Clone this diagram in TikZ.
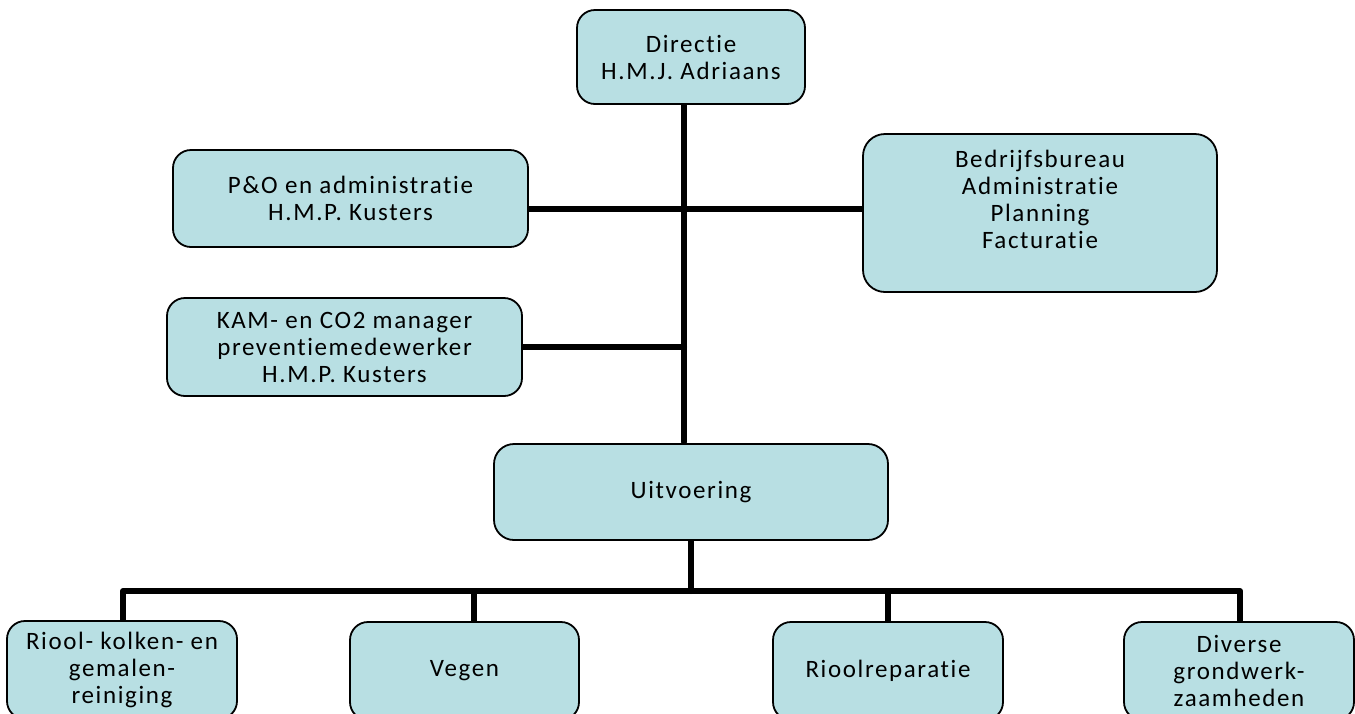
\documentclass[tikz,border=0pt]{standalone}
\usepackage{fontspec}
\setmainfont{Carlito}[Ligatures=NoCommon, LetterSpace=6.5]
\usetikzlibrary{backgrounds}
\definecolor{boxfill}{HTML}{B8DFE3}
\begin{document}
\begin{tikzpicture}[x=1pt,y=-1pt,
  box/.style={draw=black, line width=1.8pt, fill=boxfill, rounded corners=18pt,
    align=center, inner sep=0pt, outer sep=0pt, font=\fontsize{25}{27}\selectfont},
  conn/.style={line width=6pt, line cap=round, line join=round}]
\useasboundingbox (0,0) rectangle (1355,713);
\clip (0,0) rectangle (1355,713);
\node[box, minimum width=228pt, minimum height=94pt] (dir) at (691,57) {Directie\\H.M.J. Adriaans};
\node[box, minimum width=355pt, minimum height=97pt] (po) at (350.5,198.5) {P\&O en administratie\\H.M.P. Kusters};
\node[box, minimum width=355pt, minimum height=98pt] (kam) at (344.5,347) {KAM- en CO2 manager\\preventiemedewerker\\H.M.P. Kusters};
\node[box, minimum width=354pt, minimum height=158pt, rounded corners=22pt] (bb) at (1040,213) {Bedrijfsbureau\\Administratie\\Planning\\Facturatie\\\mbox{}};
\node[box, minimum width=394pt, minimum height=96pt, rounded corners=20pt] (uit) at (691,492) {Uitvoering};
\node[box, minimum width=230pt, minimum height=98pt] (b1) at (122,670) {Riool- kolken- en\\gemalen-\\reiniging};
\node[box, minimum width=229pt, minimum height=98pt] (b2) at (464.5,671) {Vegen};
\node[box, minimum width=230pt, minimum height=98pt] (b3) at (888,671) {Rioolreparatie};
\node[box, minimum width=230pt, minimum height=98pt] (b4) at (1239,671) {Diverse\\grondwerk-\\zaamheden};
\begin{scope}[on background layer]
  \coordinate (mainend) at (684,442);
  \coordinate (jpo) at (684,209);
  \coordinate (jkam) at (684,347);
  \draw[conn] (dir.south -| mainend) -- (mainend);
  \draw[conn] (po.east |- jpo) -- (jpo);
  \draw[conn] (jpo) -- (bb.west |- jpo);
  \draw[conn] (kam.east |- jkam) -- (jkam);
  \coordinate (bus0) at (691,591);
  \coordinate (bus1) at (123,591);
  \coordinate (bus2) at (474,591);
  \coordinate (bus3) at (888,591);
  \coordinate (bus4) at (1240,591);
  \draw[conn] (uit.south -| bus0) -- (bus0);
  \draw[conn] (bus1 |- b1.north) -- (bus1) -- (bus4) -- (bus4 |- b4.north);
  \draw[conn] (bus2) -- (bus2 |- b2.north);
  \draw[conn] (bus3) -- (bus3 |- b3.north);
\end{scope}
\end{tikzpicture}
\end{document}
